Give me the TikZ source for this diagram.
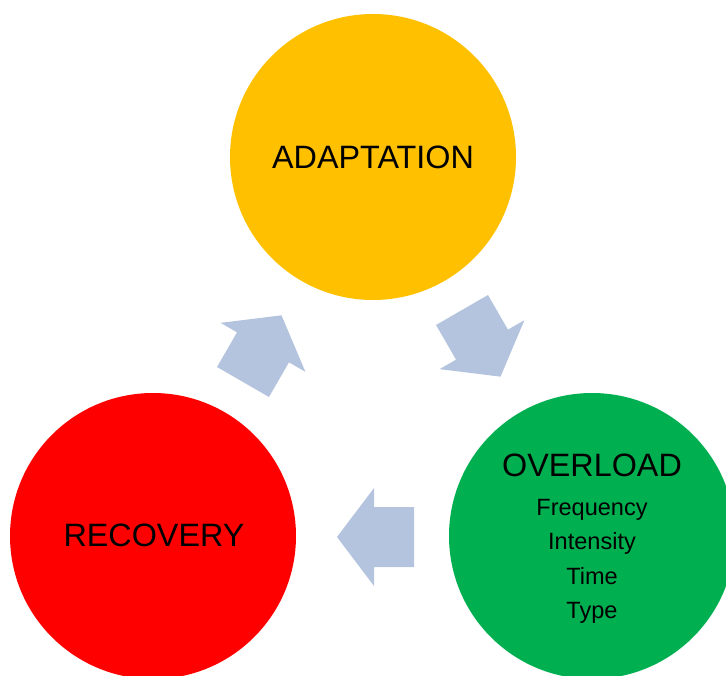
\documentclass[tikz,border=0pt]{standalone}
\usepackage{fontspec}
\setmainfont{Liberation Sans}
\definecolor{adaptyellow}{HTML}{FFC000}
\definecolor{recoverred}{HTML}{FF0000}
\definecolor{overgreen}{HTML}{00B050}
\definecolor{arrowblue}{HTML}{B4C4DE}
\tikzset{
  phase/.style={circle,minimum size=5.72cm,inner sep=0pt,draw=none},
  bigtxt/.style={font=\fontsize{18.4}{21}\selectfont},
  smalltxt/.style={font=\fontsize{13.4}{19.6}\selectfont,align=center},
  blockarrow/.style={fill=arrowblue,draw=none}
}
\begin{document}
\begin{tikzpicture}
        \useasboundingbox (0,0) rectangle (14.52,13.5);
        \clip (0,0) rectangle (14.52,13.5);
        % the three phases
        \node[phase,fill=adaptyellow] (adapt) at (7.46,10.36){};
        \node[phase,fill=recoverred] (recover) at (3.06,2.78){};
        \node[phase,fill=overgreen] (overload) at (11.84,2.78){};
        \node[bigtxt] (adaptlbl) at (adapt){ADAPTATION};
        \node[bigtxt] (recoverlbl) at (3.08,2.8){RECOVERY};
        \node[bigtxt] (overlbl) at (11.84,4.2){OVERLOAD};
        \node[smalltxt] (overlist) at (11.84,2.27){Frequency\\Intensity\\Time\\Type};
        % block arrows between the phases
        \foreach \px/\py/\ang in {4.86/5.86/60, 9.24/7.30/-60, 8.28/2.76/180}{
            \fill[blockarrow,shift={(\px,\py)},rotate=\ang]
                (0,-0.6) -- (0.8,-0.6) -- (0.8,-0.98) -- (1.54,0)
                -- (0.8,0.98) -- (0.8,0.6) -- (0,0.6) -- cycle;
        }
\end{tikzpicture}
\end{document}
